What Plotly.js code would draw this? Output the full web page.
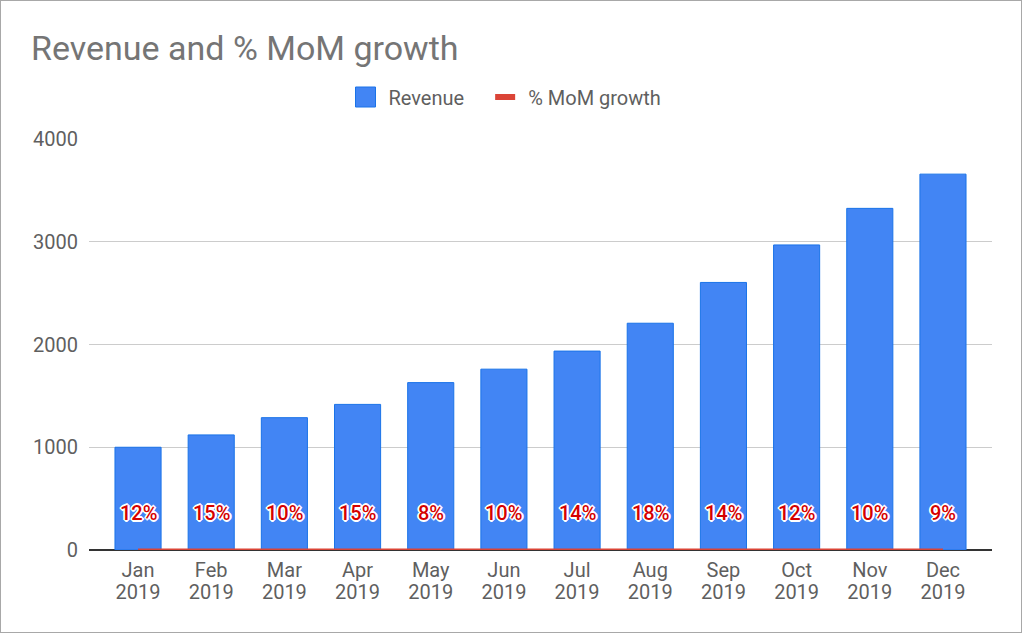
<!DOCTYPE html>
<html>
<head>
<meta charset="utf-8">
<script src="https://cdn.plot.ly/plotly-3.0.1.min.js"></script>
<style>
html,body{margin:0;padding:0;background:#fff;}
#wrap{position:relative;width:1024px;height:634px;}
#chart{width:1024px;height:634px;}
#frame{position:absolute;left:0;top:0;width:1022px;height:633px;box-sizing:border-box;border:1px solid #a8a8a8;pointer-events:none;}
</style>
</head>
<body>
<div id="wrap"><div id="chart"></div><div id="frame"></div></div>
<script>
const months = ["Jan<br>2019","Feb<br>2019","Mar<br>2019","Apr<br>2019","May<br>2019","Jun<br>2019","Jul<br>2019","Aug<br>2019","Sep<br>2019","Oct<br>2019","Nov<br>2019","Dec<br>2019"];
const revenue = [1000,1120,1288,1417,1629,1760,1936,2207,2604,2969,3325,3658];
const growth = [0.12,0.15,0.10,0.15,0.08,0.10,0.14,0.18,0.14,0.12,0.10,0.09];
const growthLabels = ["12%","15%","10%","15%","8%","10%","14%","18%","14%","12%","10%","9%"];
const yTicks = [0,1000,2000,3000,4000];

const idx = months.map((m,i)=>i);
const FONT = "Roboto, 'Noto Sans', Arial, sans-serif";
const shadow = "-1px -1px 0 #fff, 1px -1px 0 #fff, -1px 1px 0 #fff, 1px 1px 0 #fff, 0 -2px 0 #fff, 0 2px 0 #fff, -2px 0 0 #fff, 2px 0 0 #fff";

const traces = [
  {
    type:'bar', name:'Revenue', x: idx, y: revenue, width: 0.63,
    marker:{color:'#4285f4', line:{color:'#1a73e8', width:1}},
    hoverinfo:'skip'
  },
  {
    type:'scatter', mode:'lines', name:'% MoM growth', x: idx, y: growth,
    line:{color:'#db4437', width:3}, hoverinfo:'skip'
  }
];

const annotations = idx.map(i => ({
  x: i, y: growth[i], xref:'x', yref:'y', yshift: 37,
  text: growthLabels[i], showarrow:false,
  font:{family:FONT, size:20, weight:500, color:'#d50000', shadow: shadow}
}));

const layout = {
  width:1024, height:634,
  margin:{l:89, r:32, t:139, b:84},
  paper_bgcolor:'#fff', plot_bgcolor:'#fff',
  font:{family:FONT, color:'#5f5f5f'},
  title:{text:'Revenue and % MoM growth', xref:'container', yref:'container', x:31/1024, xanchor:'left', y:1-48/634, yanchor:'middle', font:{family:FONT, size:34, color:'#757575'}},
  showlegend:true,
  legend:{orientation:'h', xref:'container', yref:'container', x:0.5, xanchor:'center', y:1-97/634, yanchor:'middle', font:{family:FONT, size:20, color:'#5f5f5f'}, itemwidth:30, traceorder:'normal'},
  xaxis:{
    range:[-0.67, 11.67], tickmode:'array', tickvals: idx, ticktext: months,
    showgrid:false, zeroline:false, showline:false, ticks:'', ticklabelstandoff: 6,
    tickfont:{family:FONT, size:20, color:'#5f5f5f'}, fixedrange:true
  },
  yaxis:{
    range:[0,4000], tickmode:'array', tickvals: yTicks, ticktext: yTicks.map(String),
    showgrid:true, gridcolor:'#cccccc', gridwidth:1,
    zeroline:true, zerolinecolor:'#333333', zerolinewidth:1.5,
    showline:false, ticks:'', ticklabelstandoff: 10,
    tickfont:{family:FONT, size:20, color:'#5f5f5f'}, fixedrange:true
  },
  annotations: annotations
};

function shiftTransform(el, dx) {
  const t = el.getAttribute('transform') || '';
  const m = t.match(/translate\(\s*([-\d.e]+)[ ,]+([-\d.e]+)\s*\)/);
  if (m) el.setAttribute('transform', t.replace(m[0], 'translate(' + (parseFloat(m[1]) + dx) + ',' + m[2] + ')'));
}

Plotly.newPlot('chart', traces, layout, {displayModeBar:false, staticPlot:true}).then(gd => {
  // let the restyled legend entries show without clipping
  gd.querySelectorAll('.legend [clip-path]').forEach(e => e.removeAttribute('clip-path'));
  // legend swatches styled like the reference
  gd.querySelectorAll('.legend .traces .legendpoints path').forEach(p => {
    const d = p.getAttribute('d') || '';
    if (d.indexOf('H') >= 0 && d.indexOf('V') >= 0) {
      p.setAttribute('d', 'M10,10H-10V-10H10Z');
      p.setAttribute('transform', 'translate(17,0)');
    }
  });
  gd.querySelectorAll('.legend .traces .legendlines path').forEach(p => {
    p.setAttribute('d', 'M7,0h20');
    p.style.strokeWidth = '6px';
  });
  const groups = gd.querySelectorAll('.legend .traces');
  if (groups.length === 2) { shiftTransform(groups[0], -14); shiftTransform(groups[1], 5); }
  // tighter line spacing in two-line x tick labels
  gd.querySelectorAll('.xtick text tspan.line').forEach(ts => {
    const dy = ts.getAttribute('dy');
    if (dy && parseFloat(dy) > 0) ts.setAttribute('dy', '1.1em');
  });
});
</script>
</body>
</html>
